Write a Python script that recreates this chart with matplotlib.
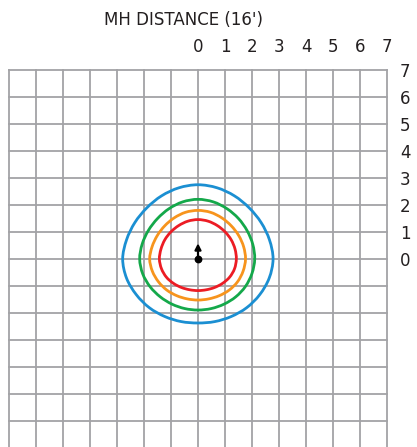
import numpy as np
import matplotlib
matplotlib.use("Agg")
import matplotlib.pyplot as plt
from matplotlib.path import Path
from matplotlib.patches import PathPatch

# Distance axes, in mounting-height units
top_labels = [0, 1, 2, 3, 4, 5, 6, 7]
side_labels = [7, 6, 5, 4, 3, 2, 1, 0]
title = "MH DISTANCE (16')"

# Iso-illuminance contours: radius (MH units) at angles measured CCW from east
angles_deg = [0, 15, 30, 45, 60, 75, 90, 105, 120, 135, 150, 165,
              180, 195, 210, 225, 240, 255, 270, 285, 300, 315, 330, 345]
blue_r = [2.78, 2.74, 2.70, 2.68, 2.70, 2.73, 2.75, 2.73, 2.70, 2.68, 2.70, 2.74,
          2.79, 2.74, 2.64, 2.55, 2.46, 2.40, 2.37, 2.40, 2.46, 2.55, 2.64, 2.73]
green_r = [2.10, 2.10, 2.10, 2.12, 2.15, 2.19, 2.21, 2.19, 2.15, 2.12, 2.12, 2.14,
           2.16, 2.12, 2.05, 1.98, 1.93, 1.90, 1.89, 1.90, 1.93, 1.98, 2.03, 2.07]
orange_r = [1.76, 1.75, 1.74, 1.74, 1.76, 1.79, 1.80, 1.79, 1.76, 1.74, 1.74, 1.76,
            1.79, 1.75, 1.69, 1.63, 1.57, 1.53, 1.52, 1.53, 1.57, 1.63, 1.69, 1.73]
red_r = [1.42, 1.42, 1.42, 1.42, 1.43, 1.45, 1.46, 1.45, 1.43, 1.42, 1.42, 1.42,
         1.43, 1.40, 1.35, 1.28, 1.22, 1.18, 1.17, 1.18, 1.22, 1.28, 1.35, 1.40]

contours = [
    (blue_r, "#1b8fd2"),
    (green_r, "#14a84a"),
    (orange_r, "#f7941d"),
    (red_r, "#ec1c24"),
]

# Luminaire position and aiming direction
fixture_xy = (0.0, 0.0)
aim_len = 0.58

text_color = "#231f20"
grid_color = "#a3a3a6"
font = ["DejaVu Sans"]


def closed_smooth_path(xs, ys):
    """Closed Bezier path passing through every vertex (Catmull-Rom tangents)."""
    pts = np.column_stack([xs, ys])
    n = len(pts)
    verts = [pts[0]]
    codes = [Path.MOVETO]
    for i in range(n):
        p0, p1, p2, p3 = pts[i - 1], pts[i], pts[(i + 1) % n], pts[(i + 2) % n]
        verts += [p1 + (p2 - p0) / 6.0, p2 - (p3 - p1) / 6.0, p2]
        codes += [Path.CURVE4] * 3
    return Path(verts, codes)


W, H = 417, 447
fig = plt.figure(figsize=(W / 100, H / 100), dpi=100)
fig.patch.set_facecolor("white")

# axes: x -7..7 spans px 9..387, y 7..-7 spans px 70..448
ax = fig.add_axes([9 / W, (H - 448) / H, 378 / W, 378 / H])
ax.set_xlim(-7, 7)
ax.set_ylim(-7, 7)
ax.axis("off")

for v in range(-7, 8):
    ax.plot([v, v], [-7, 7], color=grid_color, lw=1.3, clip_on=False, zorder=1)
    ax.plot([-7, 7], [v, v], color=grid_color, lw=1.3, clip_on=False, zorder=1)

th = np.deg2rad(angles_deg)
for radii, col in contours:
    r = np.array(radii)
    path = closed_smooth_path(r * np.cos(th), r * np.sin(th))
    ax.add_patch(PathPatch(path, facecolor="none", edgecolor=col, lw=2.0,
                           joinstyle="round", zorder=3))

ax.annotate("", xy=(fixture_xy[0], fixture_xy[1] + aim_len), xytext=fixture_xy,
            arrowprops=dict(arrowstyle="-|>,head_length=0.35,head_width=0.18",
                            color="black", lw=1.6, shrinkA=0, shrinkB=0),
            zorder=5)
ax.plot(*fixture_xy, "o", color="black", ms=4.6, zorder=6)

for v in top_labels:
    ax.text(v, 7.85, str(v), ha="center", va="center", fontsize=12,
            color=text_color, family=font, clip_on=False)
for v in side_labels:
    ax.text(7.67, v - 0.08, str(v), ha="center", va="center", fontsize=12,
            color=text_color, family=font, clip_on=False)
ax.text(-0.52, 8.85, title, ha="center", va="center", fontsize=12,
        color=text_color, family=font, clip_on=False)

fig.savefig("out.png", dpi=100, facecolor="white")
